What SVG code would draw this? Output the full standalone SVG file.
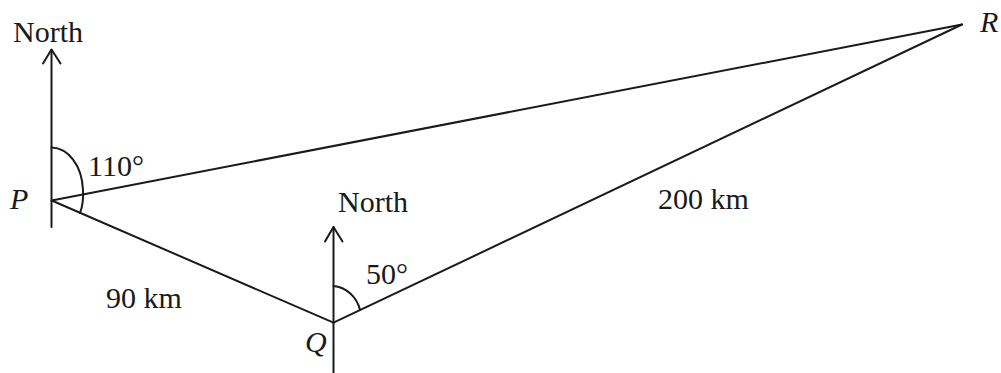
<svg xmlns="http://www.w3.org/2000/svg" width="1001" height="373" viewBox="0 0 1001 373">
<style>
.ln{stroke:#1a1a1a;stroke-width:2;fill:none;stroke-linecap:round;stroke-linejoin:round}
.t{font-family:"Liberation Serif","Times New Roman",serif;font-size:30px;fill:#1a1a1a}
.it{font-style:italic}
</style>
<rect width="1001" height="373" fill="#ffffff"/>
<g id="connectors">
<line class="ln" x1="51.7" y1="200.5" x2="962" y2="24.5"/>
<line class="ln" x1="51.7" y1="200.5" x2="333.5" y2="322.7"/>
<line class="ln" x1="333.5" y1="322.7" x2="962" y2="24.5"/>
</g>
<g id="north-P">
<line class="ln" x1="51.5" y1="50" x2="51.5" y2="227"/>
<polyline class="ln" points="43,63.5 51.5,49.5 60.5,63.5"/>
<text class="t" x="13" y="42">North</text>
</g>
<g id="north-Q">
<line class="ln" x1="333.5" y1="227" x2="333.5" y2="373"/>
<polyline class="ln" points="325,241.5 333.5,227 342.5,241.5"/>
<text class="t" x="338" y="211.7">North</text>
</g>
<g id="node-P">
<path class="ln" d="M51.5,147.5 C68,148 82,165 83,190 C83.5,200 82,208 80,213"/>
<text class="t" x="88" y="175.7">110°</text>
<text class="t it" x="10" y="209.3">P</text>
</g>
<g id="node-Q">
<path class="ln" d="M333.5,286 C346,287 357,297 360,310"/>
<text class="t" x="366" y="284.3">50°</text>
<text class="t it" x="305" y="352">Q</text>
</g>
<g id="node-R">
<text class="t it" x="980" y="32.3">R</text>
</g>
<g id="labels">
<text class="t" x="106" y="308.3">90 km</text>
<text class="t" x="658" y="209">200 km</text>
</g>
</svg>
